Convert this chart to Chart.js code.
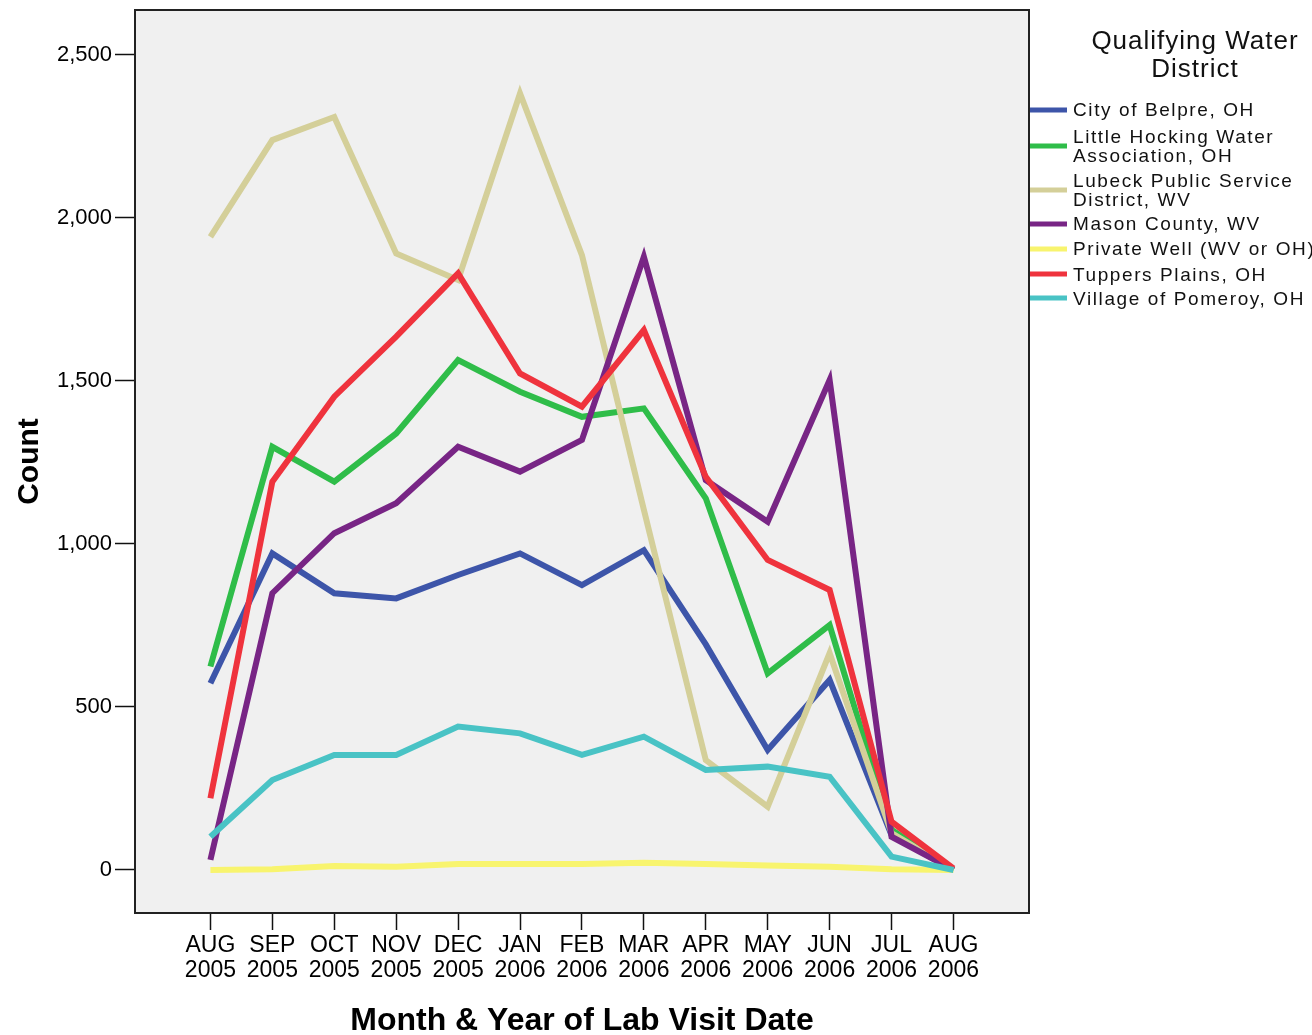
<!DOCTYPE html>
<html lang="en">
<head>
  <meta charset="UTF-8">
  <title>Count by Month & Year of Lab Visit Date</title>
  <script src="https://cdn.jsdelivr.net/npm/chart.js"></script>
  <style>
    body {
      margin: 0;
      padding: 0;
      background: #ffffff;
    }
    .chart-container {
      position: relative;
      width: 1312px;
      height: 1035px;
    }
  </style>
</head>
<body>
  <div class="chart-container">
    <canvas id="visitChart"></canvas>
  </div>
  <script>
    // Month labels (two lines each)
    const months = ['AUG', 'SEP', 'OCT', 'NOV', 'DEC', 'JAN', 'FEB', 'MAR', 'APR', 'MAY', 'JUN', 'JUL', 'AUG'];
    const years = ['2005', '2005', '2005', '2005', '2005', '2006', '2006', '2006', '2006', '2006', '2006', '2006', '2006'];
    const yTicks = [0, 500, 1000, 1500, 2000, 2500];

    // Counts per water district
    const belpre = [573, 971, 849, 833, 905, 971, 874, 981, 692, 368, 583, 107, 0];
    const littleHocking = [624, 1298, 1191, 1339, 1564, 1467, 1390, 1416, 1140, 603, 751, 123, 0];
    const lubeck = [1942, 2239, 2310, 1891, 1810, 2382, 1886, 1105, 337, 194, 665, 113, 0];
    const mason = [31, 849, 1033, 1125, 1298, 1222, 1319, 1881, 1196, 1068, 1503, 102, 0];
    const privateWell = [0, 2, 12, 10, 18, 18, 18, 22, 18, 14, 10, 2, 0];
    const tuppers = [220, 1191, 1452, 1636, 1830, 1523, 1421, 1656, 1206, 951, 859, 148, 5];
    const pomeroy = [102, 276, 353, 353, 440, 419, 353, 409, 307, 317, 286, 41, 0];

    const seriesNames = [
      ['City of Belpre, OH'],
      ['Little Hocking Water', 'Association, OH'],
      ['Lubeck Public Service', 'District, WV'],
      ['Mason County, WV'],
      ['Private Well (WV or OH)'],
      ['Tuppers Plains, OH'],
      ['Village of Pomeroy, OH'],
    ];
    const seriesValues = [belpre, littleHocking, lubeck, mason, privateWell, tuppers, pomeroy];
    const seriesColors = ['#3d55a9', '#2fbd49', '#d4cf99', '#782585', '#f8f46e', '#ef333d', '#49c3c5'];

    Chart.defaults.font.family = "'Liberation Sans', Arial, sans-serif";
    Chart.defaults.color = '#000';

    // Gray plot background, frame and the legend at the right
    const framePlugin = {
      id: 'frame',
      beforeDraw(chart) {
        const { ctx, chartArea: a } = chart;
        ctx.save();
        ctx.fillStyle = '#f0f0f0';
        ctx.fillRect(a.left, a.top, a.right - a.left, a.bottom - a.top);
        ctx.restore();
      },
      afterDraw(chart) {
        const { ctx, chartArea: a } = chart;
        ctx.save();
        ctx.strokeStyle = '#222';
        ctx.lineWidth = 2;
        ctx.strokeRect(a.left, a.top, a.right - a.left, a.bottom - a.top);

        // legend title
        ctx.fillStyle = '#111';
        ctx.textAlign = 'center';
        ctx.textBaseline = 'middle';
        ctx.font = "26px 'Liberation Sans', Arial, sans-serif";
        ctx.letterSpacing = '1px';
        ctx.fillText('Qualifying Water', 1195, 42);
        ctx.fillText('District', 1195, 70);

        // legend entries
        const rows = [[111], [138, 157], [182, 201], [225], [250], [276], [300]];
        const swatchY = [110, 146, 190, 224, 249, 274, 298];
        ctx.textAlign = 'left';
        ctx.font = "19px 'Liberation Sans', Arial, sans-serif";
        ctx.letterSpacing = '1.6px';
        seriesNames.forEach((lines, i) => {
          ctx.strokeStyle = seriesColors[i];
          ctx.lineWidth = 5;
          ctx.beginPath();
          ctx.moveTo(1030, swatchY[i]);
          ctx.lineTo(1067, swatchY[i]);
          ctx.stroke();
          lines.forEach((line, j) => {
            ctx.fillText(line, 1073, rows[i][j]);
          });
        });
        ctx.restore();
      },
    };

    const datasets = seriesValues.map((values, i) => ({
      label: seriesNames[i].join(' '),
      data: values.map((v, k) => ({ x: k, y: v })),
      borderColor: seriesColors[i],
      backgroundColor: seriesColors[i],
      borderWidth: 6,
      pointRadius: 0,
      tension: 0,
      fill: false,
      order: seriesValues.length - i, // later series drawn on top
    }));

    new Chart(document.getElementById('visitChart'), {
      type: 'line',
      data: { datasets },
      plugins: [framePlugin],
      options: {
        responsive: true,
        maintainAspectRatio: false,
        animation: false,
        layout: { padding: { top: 10, right: 283, left: 0, bottom: 0 } },
        plugins: {
          legend: { display: false },
          tooltip: { enabled: false },
        },
        scales: {
          x: {
            type: 'linear',
            min: -1.218,
            max: 13.22,
            afterFit: (scale) => {
              scale.height = 122;
              scale.paddingLeft = 0;
              scale.paddingRight = 0;
            },
            afterBuildTicks: (scale) => {
              scale.ticks = months.map((m, i) => ({ value: i }));
            },
            ticks: {
              autoSkip: false,
              maxRotation: 0,
              padding: 4,
              font: { size: 23, lineHeight: 1.05 },
              callback: (value) => [months[value], years[value]],
            },
            grid: {
              drawOnChartArea: false,
              drawTicks: true,
              tickLength: 17,
              tickColor: '#111',
              tickWidth: 1.5,
            },
            border: { display: false },
            title: {
              display: true,
              text: 'Month & Year of Lab Visit Date',
              font: { size: 32, weight: 'bold', lineHeight: 1 },
              padding: { top: 0, bottom: -2 },
            },
          },
          y: {
            type: 'linear',
            min: -132,
            max: 2638,
            afterFit: (scale) => {
              scale.width = 135;
              scale.paddingTop = 0;
              scale.paddingBottom = 0;
            },
            afterBuildTicks: (scale) => {
              scale.ticks = yTicks.map((v) => ({ value: v }));
            },
            ticks: {
              padding: 3,
              font: { size: 22 },
              callback: (value) => value.toLocaleString('en-US'),
            },
            grid: {
              drawOnChartArea: false,
              drawTicks: true,
              tickLength: 20,
              tickColor: '#111',
              tickWidth: 1.5,
            },
            border: { display: false },
            title: {
              display: true,
              text: 'Count',
              font: { size: 30, weight: 'bold' },
              padding: { top: 12, bottom: 0 },
            },
          },
        },
      },
    });
  </script>
</body>
</html>
